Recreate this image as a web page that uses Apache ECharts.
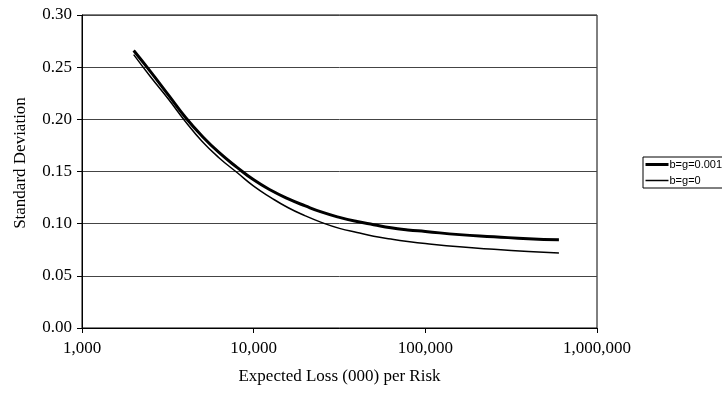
<!DOCTYPE html>
<html>
<head>
<meta charset="utf-8">
<script src="https://cdn.jsdelivr.net/npm/echarts@6/dist/echarts.min.js"></script>
<style>html,body{margin:0;padding:0;background:#fff}#c{width:722px;height:403px}</style>
</head>
<body>
<div id="c"></div>
<script>
// Expected loss (000) per risk
const lossValues = [2000, 2500, 3200, 4000, 5000, 6300, 8000, 10000, 12600, 15800, 20000, 25000, 31600, 40000, 50000, 63000, 79000, 100000, 158000, 251000, 398000, 600000];
// b=g=0.001
const sdBG001 = [0.266, 0.246, 0.223, 0.202, 0.184, 0.168, 0.154, 0.142, 0.132, 0.124, 0.117, 0.111, 0.106, 0.102, 0.099, 0.096, 0.094, 0.0925, 0.0895, 0.0875, 0.0855, 0.0845];
// b=g=0
const sdBG0 = [0.262, 0.241, 0.219, 0.198, 0.179, 0.163, 0.149, 0.136, 0.125, 0.1155, 0.1075, 0.101, 0.0955, 0.0915, 0.088, 0.0853, 0.083, 0.081, 0.0778, 0.0754, 0.0734, 0.072];
const seriesNames = ['b=g=0.001', 'b=g=0'];
const xTitle = 'Expected Loss (000) per Risk';
const yTitle = 'Standard Deviation';

const serif = 'Liberation Serif, Times New Roman, serif';
const widths = [3, 1.5];
const chart = echarts.init(document.getElementById('c'), null, {renderer: 'canvas'});
chart.setOption({
  animation: false,
  backgroundColor: '#fff',
  grid: {left: 82, right: 125, top: 15, bottom: 75, show: true, borderColor: '#000', borderWidth: 1, backgroundColor: 'transparent'},
  legend: {
    orient: 'vertical', left: 643, top: 157,
    itemWidth: 23, itemHeight: 8, itemGap: 5,
    padding: [2, 10, 2, 1],
    borderColor: '#000', borderWidth: 1,
    itemStyle: {opacity: 0},
    textStyle: {fontFamily: 'Liberation Sans, Arial, sans-serif', fontSize: 11, color: '#000', padding: [0, 0, 0, -4]},
    data: seriesNames.map((n, i) => ({name: n, lineStyle: {color: '#000', width: widths[i]}}))
  },
  graphic: [{
    type: 'text', x: 21, y: 163, rotation: Math.PI / 2,
    style: {text: yTitle, font: '17px ' + serif, fill: '#000', align: 'center', verticalAlign: 'middle'}
  }],
  xAxis: {
    type: 'log', logBase: 10, min: 1000, max: 1000000,
    name: xTitle, nameLocation: 'middle', nameGap: 40,
    nameTextStyle: {fontFamily: serif, fontSize: 17, color: '#000'},
    axisLine: {show: true, lineStyle: {color: '#000', width: 1}},
    axisTick: {show: true, inside: false, length: 5, lineStyle: {color: '#000'}},
    minorTick: {show: false},
    splitLine: {show: false},
    axisLabel: {fontFamily: serif, fontSize: 17, color: '#000', margin: 12,
      formatter: v => Math.round(v).toLocaleString('en-US')}
  },
  yAxis: {
    type: 'value', min: 0, max: 0.3, interval: 0.05,
    axisLine: {show: true, lineStyle: {color: '#000', width: 1}},
    axisTick: {show: true, inside: false, length: 5, lineStyle: {color: '#000'}},
    splitLine: {show: true, lineStyle: {color: '#444', width: 1}},
    axisLabel: {fontFamily: serif, fontSize: 17, color: '#000', margin: 10,
      formatter: v => v.toFixed(2)}
  },
  series: [
    {name: seriesNames[0], type: 'line', smooth: true, showSymbol: false, symbol: 'none',
     lineStyle: {color: '#000', width: widths[0]}, itemStyle: {color: '#000'},
     data: lossValues.map((x, i) => [x, sdBG001[i]])},
    {name: seriesNames[1], type: 'line', smooth: true, showSymbol: false, symbol: 'none',
     lineStyle: {color: '#000', width: widths[1]}, itemStyle: {color: '#000'},
     data: lossValues.map((x, i) => [x, sdBG0[i]])}
  ]
});
</script>
</body>
</html>
